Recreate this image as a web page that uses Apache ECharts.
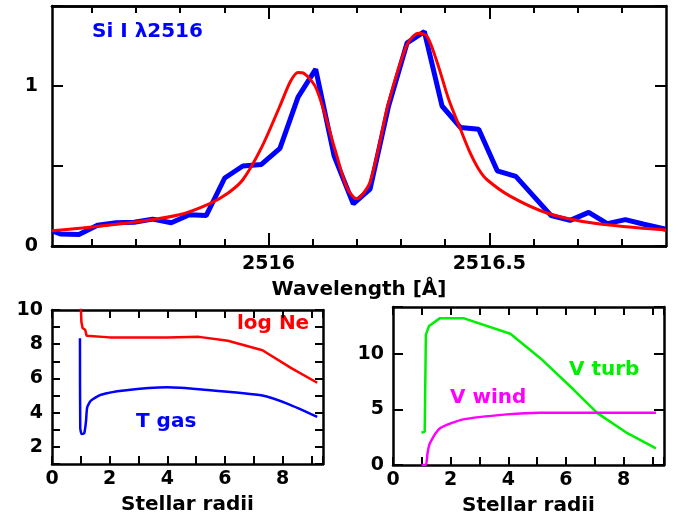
<!DOCTYPE html>
<html>
<head>
<meta charset="utf-8">
<script src="https://cdn.jsdelivr.net/npm/echarts@6/dist/echarts.min.js"></script>
<style>body{margin:0;background:#fff}</style>
</head>
<body>
<div id="chart" style="width:683px;height:523px"></div>
<script>
// observed profile (blue) and model (red), Si I 2516
const obsWave = [2515.51, 2515.529, 2515.571, 2515.613, 2515.655, 2515.696, 2515.738, 2515.780, 2515.821, 2515.859,
    2515.901, 2515.942, 2515.984, 2516.026, 2516.067, 2516.107, 2516.149, 2516.192, 2516.230, 2516.272,
    2516.314, 2516.353, 2516.393, 2516.435, 2516.476, 2516.518, 2516.560, 2516.640, 2516.683, 2516.725,
    2516.767, 2516.808, 2516.850, 2516.90];
const obsFlux = [0.095, 0.075, 0.072, 0.13, 0.145, 0.148, 0.168, 0.145, 0.195, 0.19,
    0.425, 0.50, 0.51, 0.61, 0.93, 1.105, 0.56, 0.264, 0.355, 0.875,
    1.27, 1.34, 0.875, 0.74, 0.73, 0.47, 0.435, 0.19, 0.16, 0.21,
    0.14, 0.165, 0.136, 0.105];
const modelWave = [2515.51, 2515.594, 2515.707, 2515.798, 2515.866, 2515.908, 2515.942, 2515.984, 2516.026, 2516.05,
    2516.067, 2516.08, 2516.109, 2516.151, 2516.177, 2516.200, 2516.215, 2516.230, 2516.25, 2516.272,
    2516.314, 2516.340, 2516.359, 2516.382, 2516.408, 2516.435, 2516.457, 2516.476, 2516.495, 2516.548,
    2516.632, 2516.738, 2516.90];
const modelFlux = [0.095, 0.117, 0.153, 0.195, 0.264, 0.33, 0.414, 0.613, 0.875, 1.03,
    1.085, 1.08, 0.98, 0.60, 0.37, 0.295, 0.33, 0.40, 0.62, 0.896,
    1.26, 1.33, 1.31, 1.147, 0.917, 0.728, 0.58, 0.48, 0.414, 0.31,
    0.205, 0.142, 0.10];
const waveLabels = [2516, 2516.5];
const waveMinor = [2515.6, 2515.7, 2515.8, 2515.9, 2516.1, 2516.2, 2516.3, 2516.4, 2516.6, 2516.7, 2516.8];

// atmosphere model vs stellar radius
const neR   = [1.0, 1.02, 1.06, 1.15, 1.2, 1.25, 2, 3, 4, 5.1, 6.1, 7.3, 8.3, 9.2];
const neVal = [10.2, 9.3, 8.95, 8.85, 8.5, 8.4, 8.4, 8.4, 8.4, 8.43, 8.2, 7.65, 6.6, 5.75];
const tgasR   = [0.97, 0.98, 1.03, 1.12, 1.18, 1.22, 1.35, 1.7, 2.5, 4.0, 5.2, 7.3, 8.2, 9.2];
const tgasVal = [8.35, 3.1, 2.75, 2.8, 3.5, 4.3, 4.7, 5.05, 5.3, 5.48, 5.35, 5.0, 4.5, 3.75];
const turbR   = [0.99, 1.10, 1.14, 1.25, 1.63, 2.44, 4.07, 5.11, 6.27, 7.09, 8.13, 9.12];
const turbVal = [2.9, 3.0, 11.7, 12.5, 13.2, 13.2, 11.8, 9.6, 6.76, 4.66, 2.86, 1.5];
const windR   = [0.99, 1.14, 1.2, 1.28, 1.63, 2.44, 3.95, 5.11, 9.12];
const windVal = [0, 0, 1.1, 1.95, 3.3, 4.1, 4.55, 4.7, 4.7];

const zip = (a, b) => a.map((v, i) => [v, b[i]]);

const chart = echarts.init(document.getElementById('chart'));
const font = 'DejaVu Sans';
const lbl = { color: '#000', fontFamily: font, fontWeight: 'bold', fontSize: 19 };
const nameStyle = { color: '#000', fontFamily: font, fontWeight: 'bold', fontSize: 20 };

function frameAxis(extra) {
    return Object.assign({
        type: 'value',
        axisLine: { show: true, onZero: false, lineStyle: { color: '#000', width: 2.5 } },
        axisTick: { show: true, inside: true, length: 8, lineStyle: { color: '#000', width: 2 } },
        axisLabel: { show: false },
        splitLine: { show: false }
    }, extra);
}
function ticks(len, values) {
    const t = { show: true, inside: true, length: len, lineStyle: { color: '#000', width: 2 } };
    if (values) t.customValues = values;
    return t;
}

const wMin = 2515.51, wMax = 2516.9;
const xAxes = [
    // top panel
    frameAxis({ gridIndex: 0, position: 'bottom', min: wMin, max: wMax, axisTick: ticks(13, waveLabels),
        axisLabel: Object.assign({ show: true, margin: 9, customValues: waveLabels, formatter: v => String(v) }, lbl),
        name: 'Wavelength [Å]', nameLocation: 'middle', nameGap: 34, nameTextStyle: nameStyle }),
    frameAxis({ gridIndex: 0, position: 'bottom', min: wMin, max: wMax, axisTick: ticks(7, waveMinor) }),
    frameAxis({ gridIndex: 0, position: 'top', min: wMin, max: wMax, axisTick: ticks(13, waveLabels) }),
    frameAxis({ gridIndex: 0, position: 'top', min: wMin, max: wMax, axisTick: ticks(7, waveMinor) }),
    // bottom left
    frameAxis({ gridIndex: 1, position: 'bottom', min: 0, max: 9.4, interval: 1,
        axisLabel: Object.assign({ show: true, margin: 6, formatter: v => (v % 2 === 0 ? String(v) : '') }, lbl),
        name: 'Stellar radii', nameLocation: 'middle', nameGap: 31, nameTextStyle: nameStyle }),
    frameAxis({ gridIndex: 1, position: 'top', min: 0, max: 9.4, interval: 1 }),
    // bottom right
    frameAxis({ gridIndex: 2, position: 'bottom', min: 0, max: 9.4, interval: 1,
        axisLabel: Object.assign({ show: true, margin: 6, formatter: v => (v % 2 === 0 ? String(v) : '') }, lbl),
        name: 'Stellar radii', nameLocation: 'middle', nameGap: 31, nameTextStyle: nameStyle }),
    frameAxis({ gridIndex: 2, position: 'top', min: 0, max: 9.4, interval: 1 })
];

const yAxes = [
    frameAxis({ gridIndex: 0, position: 'left', min: 0, max: 1.5, interval: 0.5, axisTick: ticks(11),
        axisLabel: Object.assign({ show: true, margin: 14, formatter: v => (v % 1 === 0 ? String(v) : '') }, lbl) }),
    frameAxis({ gridIndex: 0, position: 'right', min: 0, max: 1.5, interval: 0.5, axisTick: ticks(11) }),
    frameAxis({ gridIndex: 1, position: 'left', min: 1, max: 10, interval: 1,
        axisLabel: Object.assign({ show: true, margin: 9, formatter: v => (v % 2 === 0 ? String(v) : '') }, lbl) }),
    frameAxis({ gridIndex: 1, position: 'right', min: 1, max: 10, interval: 1 }),
    frameAxis({ gridIndex: 2, position: 'left', min: 0, max: 14.2, interval: 5, axisTick: ticks(10),
        axisLabel: Object.assign({ show: true, margin: 9, formatter: v => (v % 5 === 0 ? String(v) : '') }, lbl) }),
    frameAxis({ gridIndex: 2, position: 'right', min: 0, max: 14.2, interval: 5, axisTick: ticks(10) })
];

function line(data, xi, yi, color, width, smooth) {
    return { type: 'line', xAxisIndex: xi, yAxisIndex: yi, data: data, symbol: 'none', smooth: smooth || false,
        clip: true, lineStyle: { color: color, width: width }, itemStyle: { color: color } };
}

const option = {
    backgroundColor: '#fff',
    animation: false,
    grid: [
        { left: 52, top: 6, width: 614, height: 240 },
        { left: 52, top: 310, width: 271, height: 154 },
        { left: 393, top: 307, width: 271, height: 158 }
    ],
    xAxis: xAxes,
    yAxis: yAxes,
    series: [
        line(zip(obsWave, obsFlux), 0, 0, '#0000ff', 5),
        line(zip(modelWave, modelFlux), 0, 0, '#ff0000', 3, 0.3),
        line(zip(neR, neVal), 4, 2, '#ff0000', 2.5),
        line(zip(tgasR, tgasVal), 4, 2, '#0000ff', 2.5, 0.2),
        line(zip(turbR, turbVal), 6, 4, '#00ee00', 2.5),
        line(zip(windR, windVal), 6, 4, '#ff00ff', 2.5, 0.2)
    ],
    graphic: [
        { type: 'text', left: 92, top: 22, style: { text: 'Si I λ2516', fill: '#0000ff', font: 'bold 20px "DejaVu Sans"' } },
        { type: 'text', left: 237, top: 314, style: { text: 'log Ne', fill: '#ff0000', font: 'bold 20px "DejaVu Sans"' } },
        { type: 'text', left: 136, top: 412, style: { text: 'T gas', fill: '#0000ff', font: 'bold 20px "DejaVu Sans"' } },
        { type: 'text', left: 450, top: 388, style: { text: 'V wind', fill: '#ff00ff', font: 'bold 20px "DejaVu Sans"' } },
        { type: 'text', left: 569, top: 360, style: { text: 'V turb', fill: '#00ee00', font: 'bold 20px "DejaVu Sans"' } }
    ]
};
chart.setOption(option);
window.addEventListener('resize', () => { chart.resize(); });
</script>
</body>
</html>
